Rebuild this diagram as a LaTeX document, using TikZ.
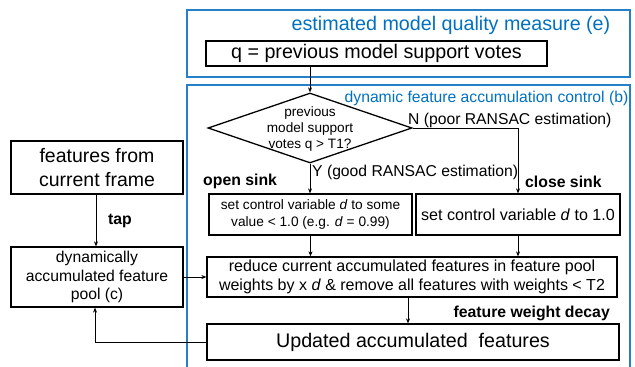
\documentclass[tikz,border=0pt]{standalone}
\usepackage{fontspec}
\setmainfont{Liberation Sans}
\usetikzlibrary{shapes.geometric,arrows.meta}
\definecolor{ttlblue}{RGB}{0,112,192}
\definecolor{frameblue}{RGB}{38,128,200}
\newcommand{\fs}[1]{\fontsize{#1}{\fpeval{#1*1.2}}\selectfont}
\tikzset{
  blk/.style={draw=black, line width=1.3pt, inner sep=0pt, align=center},
  conn/.style={draw=black, line width=0.6pt, -{Stealth[length=5pt,width=4pt]}},
  frame/.style={draw=frameblue, line width=1.5pt},
  ttl/.style={text=ttlblue, inner sep=0pt},
  lbl/.style={inner sep=0pt, font=\bfseries\fs{15.8}},
}
\begin{document}
\begin{tikzpicture}[x=1pt,y=-1pt]
\useasboundingbox (0,0) rectangle (635,367);
% blue frames
\draw[frame] (187,10) rectangle (630,77);
\draw[frame] (187,372) -- (187,85) -- (630,85) -- (630,372);
\node[ttl, font=\fs{19.7}] (ttle) at (451,25) {estimated model quality measure (e)};
\node[ttl, font=\fs{15.7}] (ttlb) at (486.5,98) {dynamic feature accumulation control (b)};
% top box
\node[blk, minimum width=341pt, minimum height=25pt, font=\fs{19.7}] (q) at (376.5,53.5) {q = previous model support votes};
% diamond
\node[diamond, draw=black, line width=1.3pt, minimum width=204pt, minimum height=70pt, inner sep=0pt] (dia) at (310,128) {};
\node[align=center, inner sep=0pt, font=\fontsize{13.6}{16}\selectfont] (diat) at (310,129) {previous\\model support\\votes q > T1?};
\node[inner sep=0pt, anchor=west, font=\fs{15.7}] (nl) at (408,120) {N (poor RANSAC estimation)};
\node[inner sep=0pt, anchor=west, font=\fs{15.7}] (yl) at (312,172) {Y (good RANSAC estimation)};
\node[lbl, anchor=west] (open) at (203,181) {open sink};
\node[lbl, anchor=west] (close) at (525,182) {close sink};
% sink boxes
\node[blk, minimum width=203pt, minimum height=41pt, font=\fontsize{13.7}{17}\selectfont] (os) at (310.5,214.5) {set control variable \textit{d} to some\\value < 1.0 (e.g. \textit{d} = 0.99)};
\node[blk, minimum width=204pt, minimum height=41pt, font=\fs{16.1}] (cs) at (518,214.5) {set control variable \textit{d} to 1.0};
% reduce box
\node[blk, minimum width=410pt, minimum height=40pt, font=\fontsize{16}{18.5}\selectfont] (red) at (412,277) {reduce current accumulated features in feature pool\\weights by x \textit{d} \& remove all features with weights < T2};
\node[lbl, anchor=east] (fwd) at (610,313) {feature weight decay};
% updated box
\node[blk, minimum width=412pt, minimum height=36pt, font=\fs{19.7}] (upd) at (413,342) {Updated accumulated\ \ features};
% left boxes
\node[blk, minimum width=172pt, minimum height=53pt, font=\fontsize{19.5}{24}\selectfont] (feat) at (97,167.5) {features from\\current frame};
\node[blk, minimum width=172pt, minimum height=60pt, font=\fontsize{15.7}{18.5}\selectfont] (pool) at (97,277) {dynamically\\accumulated feature\\pool (c)};
\node[lbl, anchor=west] (tap) at (108,221) {tap};
% connectors
\draw[conn] (q.south -| dia.north) -- (dia.north);
\draw[conn] (dia.south) -- (os.north -| dia.south);
\draw[conn] (dia.east) -| (cs.north);
\draw[conn] (os.south) -- (red.north -| os.south);
\draw[conn] (cs.south) -- (red.north -| cs.south);
\draw[conn] (red.south -| 408,0) -- (upd.north -| 408,0);
\draw[conn] (pool.east) -- (red.west);
\draw[conn] (feat.south -| 96,0) -- (pool.north -| 96,0);
\draw[conn] (upd.west) -| (pool.south -| 95,0);
\end{tikzpicture}
\end{document}
